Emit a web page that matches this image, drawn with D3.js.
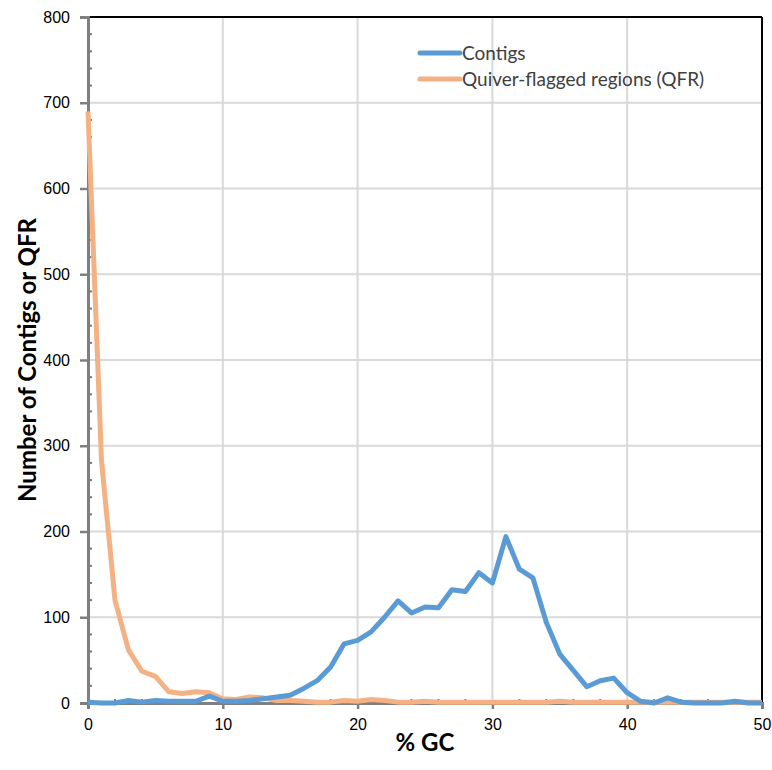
<!DOCTYPE html>
<html>
<head>
<meta charset="utf-8">
<script src="https://cdn.jsdelivr.net/npm/d3@7"></script>
<style>
  body { margin: 0; background: #fff; }
  svg { font-family: Lato, "Open Sans", sans-serif; }
</style>
</head>
<body>
<svg id="chart" width="772" height="770"></svg>
<script>
// % GC bins 0..50
const gcBins = d3.range(0, 51);
const contigs = [1, 0, 0, 3, 1, 3, 2, 2, 2, 8, 2, 2, 3, 5, 7, 9, 17, 26, 42, 69,
  73, 83, 100, 119, 105, 112, 111, 132, 130, 152, 140, 194, 156, 146, 94, 57, 38, 19, 26, 29,
  12, 2, 0, 6, 1, 0, 0, 0, 2, 0, 0];
const qfr = [690, 283, 120, 62, 37, 31, 13, 11, 13, 12, 5, 4, 7, 6, 3, 3, 2, 1, 1, 3,
  2, 4, 3, 1, 1, 2, 1, 1, 1, 1, 1, 1, 1, 1, 1, 2, 1, 1, 1, 1,
  1, 1, 1, 1, 1, 1, 1, 1, 1, 1, 1];
const seriesNames = ["Contigs", "Quiver-flagged regions (QFR)"];
const seriesColors = ["#5b9bd5", "#f4b183"];
const xTicks = [0, 10, 20, 30, 40, 50];
const yTicks = [0, 100, 200, 300, 400, 500, 600, 700, 800];

const margin = {top: 17, right: 10, bottom: 67, left: 88};
const width = 772 - margin.left - margin.right,
      height = 770 - margin.top - margin.bottom;

const svg = d3.select("#chart")
  .append("g")
  .attr("transform", "translate(" + margin.left + "," + margin.top + ")");

const x = d3.scaleLinear().domain([0, 50]).range([0, width]);
const y = d3.scaleLinear().domain([0, 800]).range([height, 0]);

// gridlines
svg.append("g").selectAll("line.hg")
  .data(yTicks.slice(1, -1))
  .enter().append("line")
  .attr("x1", 0).attr("x2", width)
  .attr("y1", d => y(d)).attr("y2", d => y(d))
  .attr("stroke", "#d9d9d9").attr("stroke-width", 2);
svg.append("g").selectAll("line.vg")
  .data(xTicks.slice(1, -1))
  .enter().append("line")
  .attr("y1", 0).attr("y2", height)
  .attr("x1", d => x(d)).attr("x2", d => x(d))
  .attr("stroke", "#d9d9d9").attr("stroke-width", 2);

// top and right frame
svg.append("line").attr("x1", 0).attr("x2", width).attr("y1", 0).attr("y2", 0)
  .attr("stroke", "#000").attr("stroke-width", 2);
svg.append("line").attr("x1", width).attr("x2", width).attr("y1", 0).attr("y2", height)
  .attr("stroke", "#000").attr("stroke-width", 2);

// minor ticks (inside)
svg.append("g").selectAll("line")
  .data(d3.range(0, 801, 20).filter(d => d % 100 !== 0))
  .enter().append("line")
  .attr("x1", 0).attr("x2", 4)
  .attr("y1", d => y(d)).attr("y2", d => y(d))
  .attr("stroke", "#777").attr("stroke-width", 2);
svg.append("g").selectAll("line")
  .data(d3.range(0, 51, 2).filter(d => d % 10 !== 0))
  .enter().append("line")
  .attr("y1", height).attr("y2", height - 4)
  .attr("x1", d => x(d)).attr("x2", d => x(d))
  .attr("stroke", "#777").attr("stroke-width", 2);

// axes
const yAxis = svg.append("g")
  .call(d3.axisLeft(y).tickValues(yTicks).tickSize(8).tickPadding(10));
const xAxis = svg.append("g")
  .attr("transform", "translate(0," + height + ")")
  .call(d3.axisBottom(x).tickValues(xTicks).tickSize(6).tickPadding(10));
[xAxis, yAxis].forEach(a => {
  a.select(".domain").attr("stroke", "#7f7f7f").attr("stroke-width", 3);
  a.selectAll(".tick line").attr("stroke", "#7f7f7f").attr("stroke-width", 2.5);
  a.selectAll(".tick text").attr("fill", "#000").style("font-size", "16px");
});

// lines
const line = d3.line().x((d, i) => x(gcBins[i])).y(d => y(d));
[qfr, contigs].forEach((s, k) => {
  svg.append("path")
    .datum(s)
    .attr("fill", "none")
    .attr("stroke", k === 0 ? seriesColors[1] : seriesColors[0])
    .attr("stroke-width", 5)
    .attr("stroke-linejoin", "round")
    .attr("d", line);
});

// legend
const legend = svg.append("g").attr("transform", "translate(332,36)");
seriesNames.forEach((n, i) => {
  legend.append("line")
    .attr("x1", 0).attr("x2", 40)
    .attr("y1", i * 26).attr("y2", i * 26)
    .attr("stroke", seriesColors[i]).attr("stroke-width", 5)
    .attr("stroke-linecap", "round");
  legend.append("text")
    .attr("x", 42).attr("y", i * 26)
    .attr("dy", "0.35em")
    .attr("fill", "#404040")
    .style("font-size", "19px")
    .text(n);
});

// axis titles
svg.append("text")
  .attr("x", width / 2).attr("y", height + 48)
  .attr("text-anchor", "middle")
  .style("font-size", "24px").style("font-weight", "bold")
  .text("% GC");
svg.append("text")
  .attr("transform", "rotate(-90)")
  .attr("x", -height / 2).attr("y", -52)
  .attr("text-anchor", "middle")
  .style("font-size", "24px").style("font-weight", "bold")
  .text("Number of Contigs or QFR");
</script>
</body>
</html>
